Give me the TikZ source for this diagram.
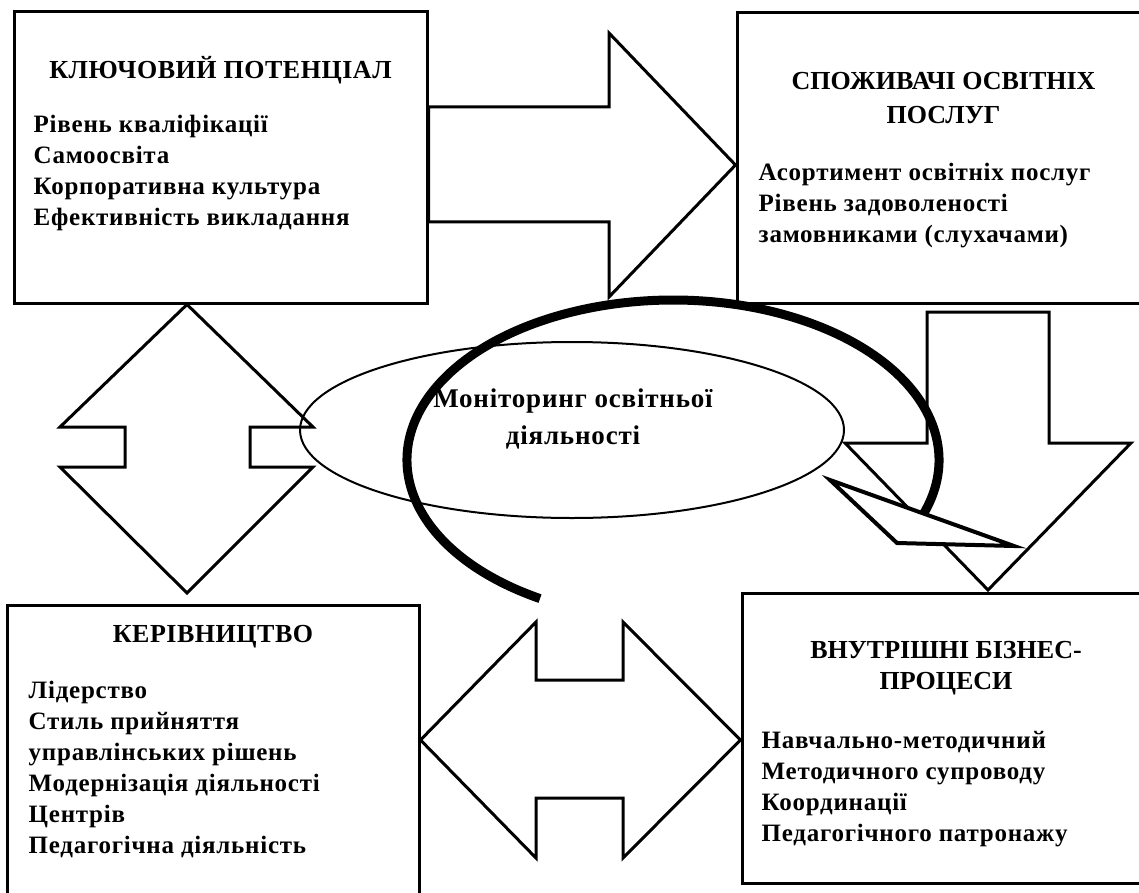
\documentclass[tikz,border=0pt]{standalone}
\usepackage{fontspec}
\setmainfont{Liberation Serif}
\usetikzlibrary{shapes.geometric, positioning}
\tikzstyle{block} = [
	rectangle,
	draw=black,
	line width=3pt,
	inner sep=0pt
]
\tikzstyle{boxtitle} = [inner sep=0pt, align=center, font=\bfseries\fontsize{26}{33}\selectfont\addfontfeatures{LetterSpace=2}]
\tikzstyle{boxtext} = [inner sep=0pt, align=left, font=\bfseries\fontsize{25}{31}\selectfont\addfontfeatures{LetterSpace=3}]
\tikzstyle{blockarrow} = [draw=black, line width=3pt, line join=miter]
\tikzstyle{cycleband} = [line width=9pt]

\begin{document}
\begin{tikzpicture}[x=1pt, y=-1pt]
            \useasboundingbox (0,0) rectangle (1139,893);
            \clip (0,0) rectangle (1139,893);
            \node (kp) [block, minimum width=413pt, minimum height=291pt] at (220.5,157.5) {};
            \node (spo) [block, minimum width=413pt, minimum height=290pt] at (943.5,158) {};
            \node (ker) [block, minimum width=412pt, minimum height=300pt] at (213,755) {};
            \node (vbp) [block, minimum width=408pt, minimum height=290pt] at (946,738) {};
            \node (kpT) [boxtitle, below=46pt of kp.north] {КЛЮЧОВИЙ ПОТЕНЦІАЛ};
            \node (kpB) [boxtext, below right=104pt and 21pt of kp.north west] {Рівень кваліфікації\\Самоосвіта\\Корпоративна культура\\Ефективність викладання};
            \node (spoT) [boxtitle, font=\bfseries\fontsize{26}{34}\selectfont, below=61pt of spo.north] {СПОЖИВАЧІ ОСВІТНІХ\\ПОСЛУГ};
            \node (spoB) [boxtext, below right=151pt and 23pt of spo.north west] {Асортимент освітніх послуг\\Рівень задоволеності\\замовниками (слухачами)};
            \node (kerT) [boxtitle, below=22pt of ker.north] {КЕРІВНИЦТВО};
            \node (kerB) [boxtext, below right=77pt and 23pt of ker.north west] {Лідерство\\Стиль прийняття\\управлінських рішень\\Модернізація діяльності\\Центрів\\Педагогічна діяльність};
            \node (vbpT) [boxtitle, font=\bfseries\fontsize{26}{31}\selectfont, below=50pt of vbp.north] {ВНУТРІШНІ БІЗНЕС-\\ПРОЦЕСИ};
            \node (vbpB) [boxtext, below right=140pt and 21pt of vbp.north west] {Навчально-методичний\\Методичного супроводу\\Координації\\Педагогічного патронажу};
            % block arrows between the boxes
            \draw [blockarrow] (kp.east |- 0,107) -- (609,107) -- (609,33) -- (spo.west |- 0,165) -- (609,297) -- (609,222) -- (kp.east |- 0,222) -- cycle;
            \draw [blockarrow] (kp.south -| 187,0) -- (313,427) -- (250,427) -- (250,467) -- (313,467) -- (187,593) -- (60,467) -- (125,467) -- (125,427) -- (60,427) -- cycle;
            \draw [blockarrow] (ker.east |- 0,740) -- (536,622) -- (536,680) -- (623,680) -- (623,622) -- (vbp.west |- 0,740) -- (623,858) -- (623,798) -- (536,798) -- (536,858) -- cycle;
            \draw [blockarrow] (927,312) -- (1049,312) -- (1049,443) -- (1131,443) -- (988,590) -- (845,443) -- (927,443) -- cycle;
            \node (mon) [ellipse, draw=black, line width=2pt, minimum width=544pt, minimum height=176pt, inner sep=0pt] at (572,430) {};
            \node (monT) [boxtext, align=center, font=\bfseries\fontsize{27}{37}\selectfont\addfontfeatures{LetterSpace=3}] at (573,419) {Моніторинг освітньої\\діяльності};
            \draw [cycleband] (540,598.6) arc[start angle=120, end angle=380, x radius=266, y radius=160];
            \draw [blockarrow, line width=4pt, fill=white] (830,480) -- (1014,546) -- (897,543) -- cycle;
          \end{tikzpicture}
\end{document}
